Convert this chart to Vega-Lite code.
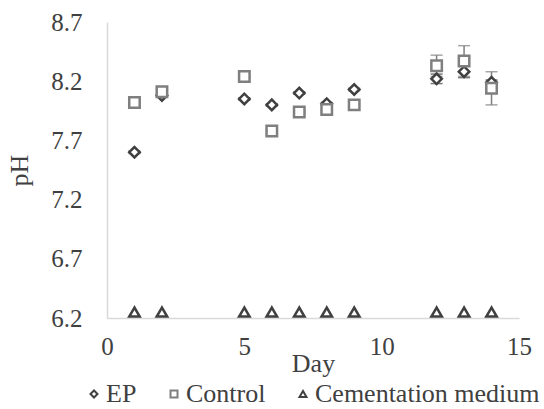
{
  "$schema": "https://vega.github.io/schema/vega-lite/v6.json",
  "autosize": {"type": "none"},
  "width": 412,
  "height": 296,
  "padding": {"left": 107, "top": 22, "right": 25, "bottom": 91},
  "background": "white",
  "config": {
    "view": {"stroke": null},
    "font": "Liberation Serif",
    "axis": {"grid": false, "ticks": false, "labelFlush": false, "domainColor": "#d9d9d9", "domainWidth": 1.5, "labelColor": "#404040", "titleColor": "#404040", "titleFontWeight": "normal"}
  },
  "datasets": {
    "pts": [
      {"day": 1, "series": "EP", "pH": 7.60, "lo": 7.59, "hi": 7.61},
      {"day": 2, "series": "EP", "pH": 8.08, "lo": 8.07, "hi": 8.09},
      {"day": 5, "series": "EP", "pH": 8.05, "lo": 8.04, "hi": 8.06},
      {"day": 6, "series": "EP", "pH": 8.00, "lo": 7.99, "hi": 8.01},
      {"day": 7, "series": "EP", "pH": 8.10, "lo": 8.09, "hi": 8.11},
      {"day": 8, "series": "EP", "pH": 8.01, "lo": 8.00, "hi": 8.02},
      {"day": 9, "series": "EP", "pH": 8.13, "lo": 8.12, "hi": 8.14},
      {"day": 12, "series": "EP", "pH": 8.22, "lo": 8.18, "hi": 8.26},
      {"day": 13, "series": "EP", "pH": 8.28, "lo": 8.23, "hi": 8.33},
      {"day": 14, "series": "EP", "pH": 8.19, "lo": 8.17, "hi": 8.21},
      {"day": 1, "series": "Control", "pH": 8.02, "lo": 8.01, "hi": 8.03},
      {"day": 2, "series": "Control", "pH": 8.11, "lo": 8.10, "hi": 8.12},
      {"day": 5, "series": "Control", "pH": 8.24, "lo": 8.23, "hi": 8.25},
      {"day": 6, "series": "Control", "pH": 7.78, "lo": 7.77, "hi": 7.79},
      {"day": 7, "series": "Control", "pH": 7.94, "lo": 7.93, "hi": 7.95},
      {"day": 8, "series": "Control", "pH": 7.96, "lo": 7.95, "hi": 7.97},
      {"day": 9, "series": "Control", "pH": 8.00, "lo": 7.99, "hi": 8.01},
      {"day": 12, "series": "Control", "pH": 8.33, "lo": 8.24, "hi": 8.42},
      {"day": 13, "series": "Control", "pH": 8.37, "lo": 8.24, "hi": 8.50},
      {"day": 14, "series": "Control", "pH": 8.14, "lo": 8.00, "hi": 8.28},
      {"day": 1, "series": "Cementation medium", "pH": 6.25, "lo": 6.25, "hi": 6.25},
      {"day": 2, "series": "Cementation medium", "pH": 6.25, "lo": 6.25, "hi": 6.25},
      {"day": 5, "series": "Cementation medium", "pH": 6.25, "lo": 6.25, "hi": 6.25},
      {"day": 6, "series": "Cementation medium", "pH": 6.25, "lo": 6.25, "hi": 6.25},
      {"day": 7, "series": "Cementation medium", "pH": 6.25, "lo": 6.25, "hi": 6.25},
      {"day": 8, "series": "Cementation medium", "pH": 6.25, "lo": 6.25, "hi": 6.25},
      {"day": 9, "series": "Cementation medium", "pH": 6.25, "lo": 6.25, "hi": 6.25},
      {"day": 12, "series": "Cementation medium", "pH": 6.25, "lo": 6.25, "hi": 6.25},
      {"day": 13, "series": "Cementation medium", "pH": 6.25, "lo": 6.25, "hi": 6.25},
      {"day": 14, "series": "Cementation medium", "pH": 6.25, "lo": 6.25, "hi": 6.25}
    ]
  },
  "data": {"name": "pts"},
  "encoding": {
    "x": {"field": "day", "type": "quantitative", "scale": {"domain": [0, 15], "nice": false}, "axis": {"values": [0, 5, 10, 15], "title": "Day", "labelFont": "Liberation Serif", "labelFontSize": 25, "titleFont": "Liberation Serif", "titleFontSize": 26, "labelPadding": 16, "titleY": 32, "titleBaseline": "top"}}
  },
  "layer": [
    {
      "transform": [{"filter": "datum.series === 'EP'"}],
      "mark": {"type": "errorbar", "ticks": {"size": 12, "color": "#404040"}, "rule": {"color": "#404040", "strokeWidth": 1.5}, "thickness": 1.5},
      "encoding": {
        "y": {"field": "lo", "type": "quantitative", "scale": {"domain": [6.2, 8.7], "nice": false, "zero": false}, "axis": {"values": [6.2, 6.7, 7.2, 7.7, 8.2, 8.7], "format": ".1f", "title": "pH", "labelFont": "Liberation Serif", "labelFontSize": 25, "titleFont": "Liberation Serif", "titleFontSize": 26, "labelPadding": 25, "titleAngle": 270, "titleX": -88, "titleY": 148, "titleAlign": "center", "titleBaseline": "middle"}},
        "y2": {"field": "hi"}
      }
    },
    {
      "transform": [{"filter": "datum.series === 'Control'"}],
      "mark": {"type": "errorbar", "ticks": {"size": 12, "color": "#7f7f7f"}, "rule": {"color": "#7f7f7f", "strokeWidth": 1.5}, "thickness": 1.5},
      "encoding": {
        "y": {"field": "lo", "type": "quantitative", "title": "pH"},
        "y2": {"field": "hi"}
      }
    },
    {
      "mark": {"type": "point", "filled": false, "fill": "white", "fillOpacity": 1, "strokeWidth": 2.5, "size": 110, "opacity": 1},
      "encoding": {
        "y": {"field": "pH", "type": "quantitative", "title": "pH"},
        "order": {"field": "day"},
        "stroke": {"field": "series", "type": "nominal", "sort": ["EP", "Control", "Cementation medium"], "scale": {"domain": ["EP", "Control", "Cementation medium"], "range": ["#404040", "#7f7f7f", "#404040"]}, "legend": {"title": null, "orient": "none", "direction": "horizontal", "legendX": -26, "legendY": 359, "labelFont": "Liberation Serif", "labelFontSize": 26, "labelLimit": 0, "labelColor": "#404040", "symbolSize": 49, "symbolStrokeWidth": 2, "symbolFillColor": "white", "columnPadding": 24, "labelOffset": -1}},
        "shape": {"field": "series", "type": "nominal", "sort": ["EP", "Control", "Cementation medium"], "scale": {"domain": ["EP", "Control", "Cementation medium"], "range": ["diamond", "square", "triangle-up"]}}
      }
    }
  ]
}
